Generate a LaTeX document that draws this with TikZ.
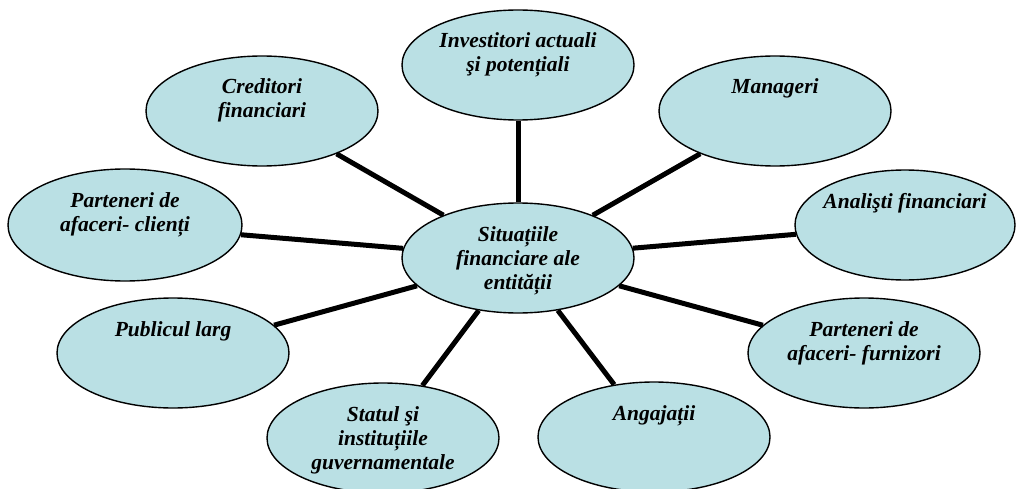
\documentclass[tikz,border=0pt]{standalone}
\usepackage{fontspec}
\setmainfont{Liberation Serif}
\usetikzlibrary{shapes.geometric}
\definecolor{bubblefill}{RGB}{186,224,228}
\begin{document}
\begin{tikzpicture}[x=1pt,y=-1pt,
  bubble/.style={ellipse,draw=black,line width=1.4pt,fill=bubblefill,inner sep=0pt,
    minimum width=232pt,minimum height=110pt},
  caption/.style={anchor=north,inner sep=0pt,align=center,
    font=\fontsize{21.5}{24}\selectfont\bfseries\itshape},
  link/.style={line width=5pt}]
\useasboundingbox (0,0) rectangle (1016,489);

% ellipses
\node[bubble] (sit)  at (518,258) {};
\node[bubble] (inv)  at (518,65) {};
\node[bubble] (cred) at (262,111) {};
\node[bubble] (man)  at (775,111) {};
\node[bubble,minimum width=234pt,minimum height=112pt] (cli) at (125,225) {};
\node[bubble,minimum width=220pt] (ana) at (905,225) {};
\node[bubble] (pub)  at (173,353) {};
\node[bubble] (fur)  at (864,353) {};
\node[bubble] (stat) at (383,438) {};
\node[bubble] (ang)  at (654,437) {};

% connectors from the centre
\foreach \n in {inv,cred,man,cli,ana,pub,fur,stat,ang}
  \draw[link] (sit) -- (\n);

% captions (text anchored near the top of each ellipse)
\node[caption] (tsit)  at (518,224) {\strut Situațiile\\financiare ale\\entității};
\node[caption] (tinv)  at (518,31)  {\strut Investitori actuali\\şi potențiali};
\node[caption] (tcred) at (262,77)  {\strut Creditori\\financiari};
\node[caption] (tman)  at (775,77)  {\strut Manageri};
\node[caption] (tcli)  at (125,190) {\strut Parteneri de\\afaceri- clienți};
\node[caption] (tana)  at (905,191) {\strut Analişti financiari};
\node[caption] (tpub)  at (173,319) {\strut Publicul larg};
\node[caption] (tfur)  at (864,319) {\strut Parteneri de\\afaceri- furnizori};
\node[caption] (tstat) at (383,404) {\strut Statul şi\\instituțiile\\guvernamentale};
\node[caption] (tang)  at (654,403) {\strut Angajații};
\end{tikzpicture}
\end{document}
